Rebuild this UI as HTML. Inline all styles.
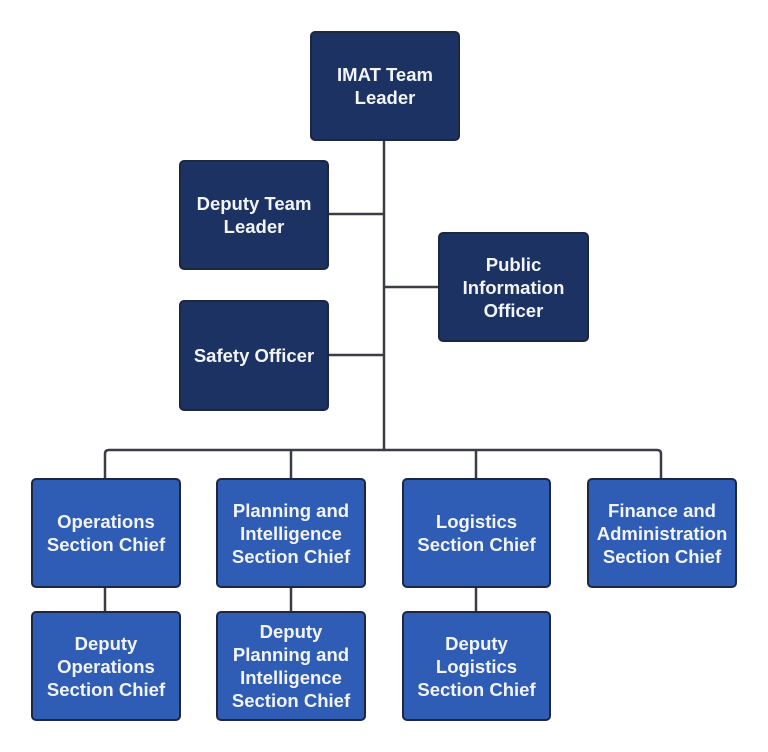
<!DOCTYPE html>
<html><head><meta charset="utf-8"><style>
html,body{margin:0;padding:0;background:#fff;}
body{width:768px;height:752px;position:relative;overflow:hidden;font-family:"Liberation Sans",Arial,sans-serif;}
.b{position:absolute;box-sizing:border-box;border:2px solid #1d2740;border-radius:5px;color:#f2f4f8;font-weight:bold;font-size:18.5px;line-height:23px;display:flex;align-items:center;justify-content:center;text-align:center;}
.d{background:#1b3262;}
.l{background:#2f5db6;}
svg{position:absolute;left:0;top:0;}
</style></head><body>
<svg width="768" height="752"><g stroke="#3a3d44" stroke-width="2.5" fill="none">
<line x1="384" y1="140" x2="384" y2="450"/>
<line x1="328" y1="214" x2="384" y2="214"/>
<line x1="384" y1="287" x2="438" y2="287"/>
<line x1="328" y1="355" x2="384" y2="355"/>
<path d="M105 478 V454 Q105 450 109 450 H657 Q661 450 661 454 V478"/>
<line x1="291" y1="450" x2="291" y2="478"/>
<line x1="476" y1="450" x2="476" y2="478"/>
<line x1="105" y1="587" x2="105" y2="611"/>
<line x1="291" y1="587" x2="291" y2="611"/>
<line x1="476" y1="587" x2="476" y2="611"/>
</g></svg>
<div class="b d" style="left:310px;top:31px;width:150px;height:110px;">IMAT Team<br>Leader</div>
<div class="b d" style="left:179px;top:160px;width:150px;height:110px;">Deputy Team<br>Leader</div>
<div class="b d" style="left:438px;top:232px;width:151px;height:110px;">Public<br>Information<br>Officer</div>
<div class="b d" style="left:179px;top:300px;width:150px;height:111px;">Safety Officer</div>
<div class="b l" style="left:31px;top:478px;width:150px;height:110px;">Operations<br>Section Chief</div>
<div class="b l" style="left:216px;top:478px;width:150px;height:110px;">Planning and<br>Intelligence<br>Section Chief</div>
<div class="b l" style="left:402px;top:478px;width:149px;height:110px;">Logistics<br>Section Chief</div>
<div class="b l" style="left:587px;top:478px;width:150px;height:110px;">Finance and<br>Administration<br>Section Chief</div>
<div class="b l" style="left:31px;top:611px;width:150px;height:110px;">Deputy<br>Operations<br>Section Chief</div>
<div class="b l" style="left:216px;top:611px;width:150px;height:110px;">Deputy<br>Planning and<br>Intelligence<br>Section Chief</div>
<div class="b l" style="left:402px;top:611px;width:149px;height:110px;">Deputy<br>Logistics<br>Section Chief</div>
</body></html>
